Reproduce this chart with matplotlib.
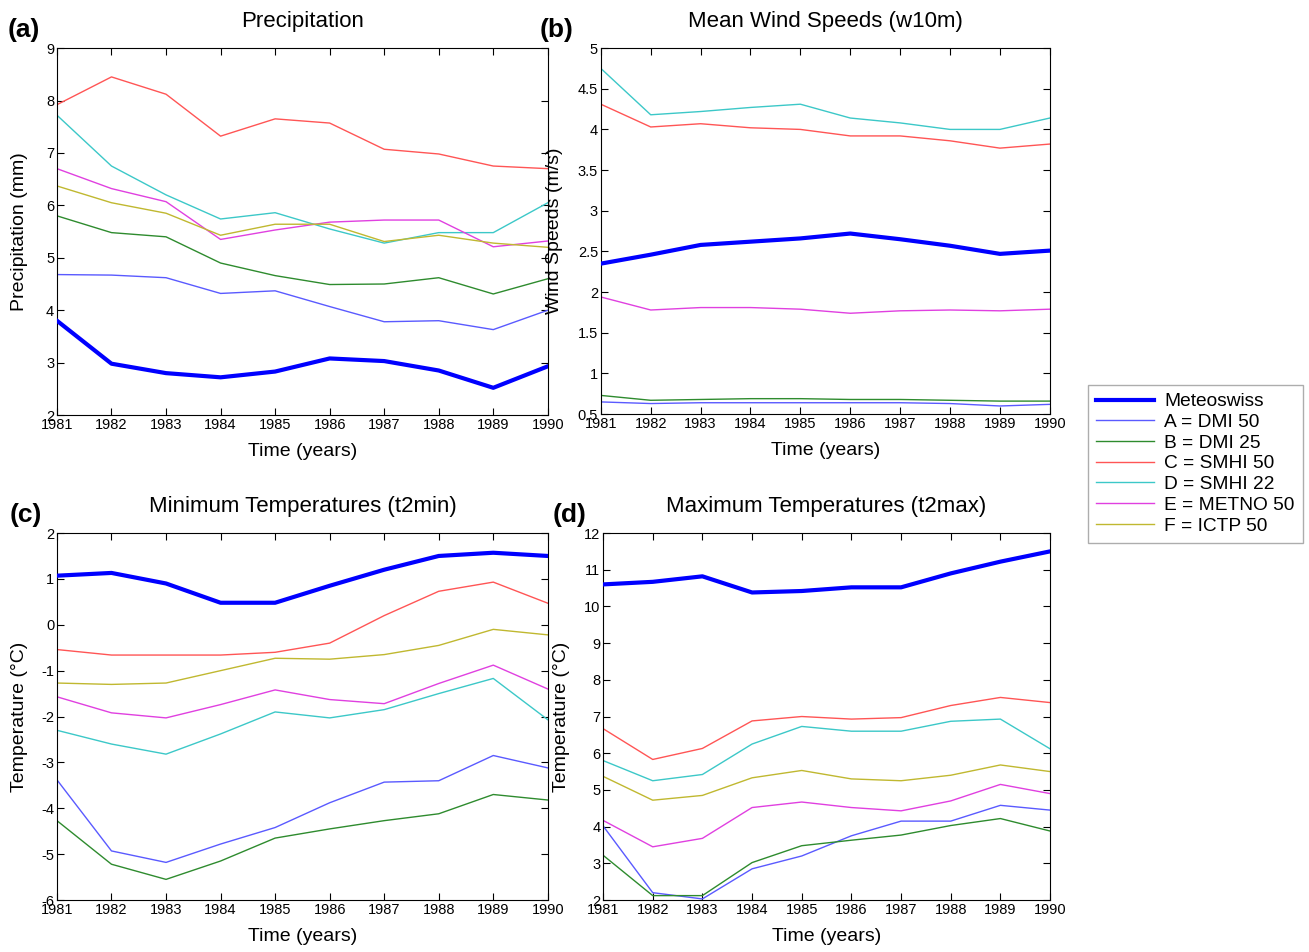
import numpy as np
import matplotlib
matplotlib.use("Agg")
import matplotlib.pyplot as plt

plt.rcParams['font.family'] = ['Liberation Sans', 'DejaVu Sans']

years = [1981, 1982, 1983, 1984, 1985, 1986, 1987, 1988, 1989, 1990]
names = ['Meteoswiss', 'A = DMI 50', 'B = DMI 25', 'C = SMHI 50',
         'D = SMHI 22', 'E = METNO 50', 'F = ICTP 50']

# precipitation (mm)
pr_meteo = [3.8, 2.98, 2.8, 2.72, 2.83, 3.08, 3.03, 2.85, 2.52, 2.93]
pr_a = [4.68, 4.67, 4.62, 4.32, 4.37, 4.07, 3.78, 3.8, 3.63, 4.0]
pr_b = [5.8, 5.48, 5.4, 4.9, 4.66, 4.49, 4.5, 4.62, 4.31, 4.6]
pr_c = [7.92, 8.45, 8.12, 7.32, 7.65, 7.57, 7.07, 6.98, 6.75, 6.7]
pr_d = [7.72, 6.75, 6.2, 5.74, 5.86, 5.55, 5.28, 5.48, 5.48, 6.05]
pr_e = [6.7, 6.32, 6.07, 5.35, 5.53, 5.68, 5.72, 5.72, 5.21, 5.32]
pr_f = [6.37, 6.05, 5.85, 5.43, 5.64, 5.64, 5.31, 5.43, 5.28, 5.2]

# wind speed (m/s) - no ICTP line in the original
ws_meteo = [2.35, 2.46, 2.58, 2.62, 2.66, 2.72, 2.65, 2.57, 2.47, 2.51]
ws_a = [0.65, 0.63, 0.64, 0.64, 0.64, 0.64, 0.64, 0.63, 0.6, 0.62]
ws_b = [0.73, 0.67, 0.68, 0.69, 0.69, 0.68, 0.68, 0.67, 0.66, 0.66]
ws_c = [4.31, 4.03, 4.07, 4.02, 4.0, 3.92, 3.92, 3.86, 3.77, 3.82]
ws_d = [4.75, 4.18, 4.22, 4.27, 4.31, 4.14, 4.08, 4.0, 4.0, 4.14]
ws_e = [1.94, 1.78, 1.81, 1.81, 1.79, 1.74, 1.77, 1.78, 1.77, 1.79]
ws_f = None

# minimum temperature (C)
tn_meteo = [1.07, 1.13, 0.9, 0.48, 0.48, 0.85, 1.2, 1.5, 1.57, 1.5]
tn_a = [-3.38, -4.93, -5.18, -4.78, -4.42, -3.88, -3.43, -3.4, -2.85, -3.12]
tn_b = [-4.27, -5.22, -5.55, -5.15, -4.65, -4.45, -4.27, -4.12, -3.7, -3.82]
tn_c = [-0.54, -0.66, -0.66, -0.66, -0.6, -0.4, 0.2, 0.73, 0.93, 0.47]
tn_d = [-2.3, -2.6, -2.82, -2.38, -1.9, -2.03, -1.85, -1.5, -1.17, -2.07]
tn_e = [-1.57, -1.92, -2.03, -1.74, -1.42, -1.63, -1.72, -1.28, -0.88, -1.4]
tn_f = [-1.27, -1.3, -1.27, -1.0, -0.73, -0.75, -0.65, -0.45, -0.1, -0.22]

# maximum temperature (C)
tx_meteo = [10.6, 10.67, 10.82, 10.38, 10.42, 10.52, 10.52, 10.9, 11.22, 11.5]
tx_a = [4.02, 2.2, 2.03, 2.85, 3.2, 3.75, 4.15, 4.15, 4.58, 4.45]
tx_b = [3.22, 2.12, 2.12, 3.02, 3.48, 3.63, 3.77, 4.03, 4.22, 3.88]
tx_c = [6.67, 5.83, 6.13, 6.88, 7.0, 6.93, 6.97, 7.3, 7.52, 7.38]
tx_d = [5.8, 5.25, 5.42, 6.25, 6.73, 6.6, 6.6, 6.87, 6.93, 6.12]
tx_e = [4.17, 3.45, 3.68, 4.52, 4.67, 4.52, 4.43, 4.7, 5.15, 4.9]
tx_f = [5.37, 4.72, 4.85, 5.33, 5.53, 5.3, 5.25, 5.4, 5.68, 5.5]

colors = ['#0000ff', '#5a5aff', '#2e8b2e', '#ff5555', '#3cc8c8', '#e040e0', '#c0b830']
widths = [3.0, 1, 1, 1, 1, 1, 1]

fig = plt.figure(figsize=(13.09, 9.52), dpi=100)

# rect, letter, letter x, title, ylabel, ylabel x (axes frac), series, ylim, yticks
panels = [
    ([0.0435, 0.564, 0.375, 0.3855], '(a)', -0.1, 'Precipitation', 'Precipitation (mm)', -0.059,
     [pr_meteo, pr_a, pr_b, pr_c, pr_d, pr_e, pr_f], (2, 9), np.arange(2, 9.1, 1)),
    ([0.459, 0.565, 0.343, 0.3845], '(b)', -0.136, 'Mean Wind Speeds (w10m)', 'Wind Speeds (m/s)', -0.085,
     [ws_meteo, ws_a, ws_b, ws_c, ws_d, ws_e, ws_f], (0.5, 5), np.arange(0.5, 5.01, 0.5)),
    ([0.0435, 0.0546, 0.375, 0.3855], '(c)', -0.097, 'Minimum Temperatures (t2min)', 'Temperature (°C)', -0.059,
     [tn_meteo, tn_a, tn_b, tn_c, tn_d, tn_e, tn_f], (-6, 2), np.arange(-6, 2.1, 1)),
    ([0.4607, 0.0546, 0.3415, 0.3855], '(d)', -0.112, 'Maximum Temperatures (t2max)', 'Temperature (°C)', -0.074,
     [tx_meteo, tx_a, tx_b, tx_c, tx_d, tx_e, tx_f], (2, 12), np.arange(2, 12.1, 1)),
]

lines = []
for rect, letter, lx, title, ylabel, ylx, series, ylim, yticks in panels:
    ax = fig.add_axes(rect)
    # draw the models first, observations on top
    for i in [1, 2, 3, 4, 5, 6, 0]:
        if series[i] is None:
            continue
        ln, = ax.plot(years, series[i], color=colors[i], lw=widths[i], zorder=3 if i == 0 else 2)
        if len(lines) < 7:
            lines.append((i, ln))
    ax.set_xlim(1981, 1990)
    ax.set_ylim(*ylim)
    ax.set_xticks(years)
    ax.set_yticks(yticks)
    ax.set_yticklabels(['%g' % t for t in yticks])
    ax.tick_params(direction='in', top=True, right=True, labelsize=10.5, length=5, pad=2)
    ax.set_title(title, fontsize=16, pad=15)
    ax.set_xlabel('Time (years)', fontsize=14, labelpad=8)
    ax.set_ylabel(ylabel, fontsize=14)
    ax.yaxis.set_label_coords(ylx, 0.5)
    ax.text(lx, 1.03, letter, transform=ax.transAxes, fontsize=19, fontweight='bold')
    for s in ax.spines.values():
        s.set_linewidth(0.8)

lines.sort(key=lambda t: t[0])
fig.legend([l for _, l in lines], names, loc='upper left',
           bbox_to_anchor=(1088 / 1309, 1 - 385 / 952),
           fontsize=13.8, frameon=True, fancybox=False, edgecolor='#999999',
           handlelength=3.0, handletextpad=0.55, labelspacing=0.17, borderpad=0.42,
           borderaxespad=0)

fig.savefig('out.png', dpi=100)
